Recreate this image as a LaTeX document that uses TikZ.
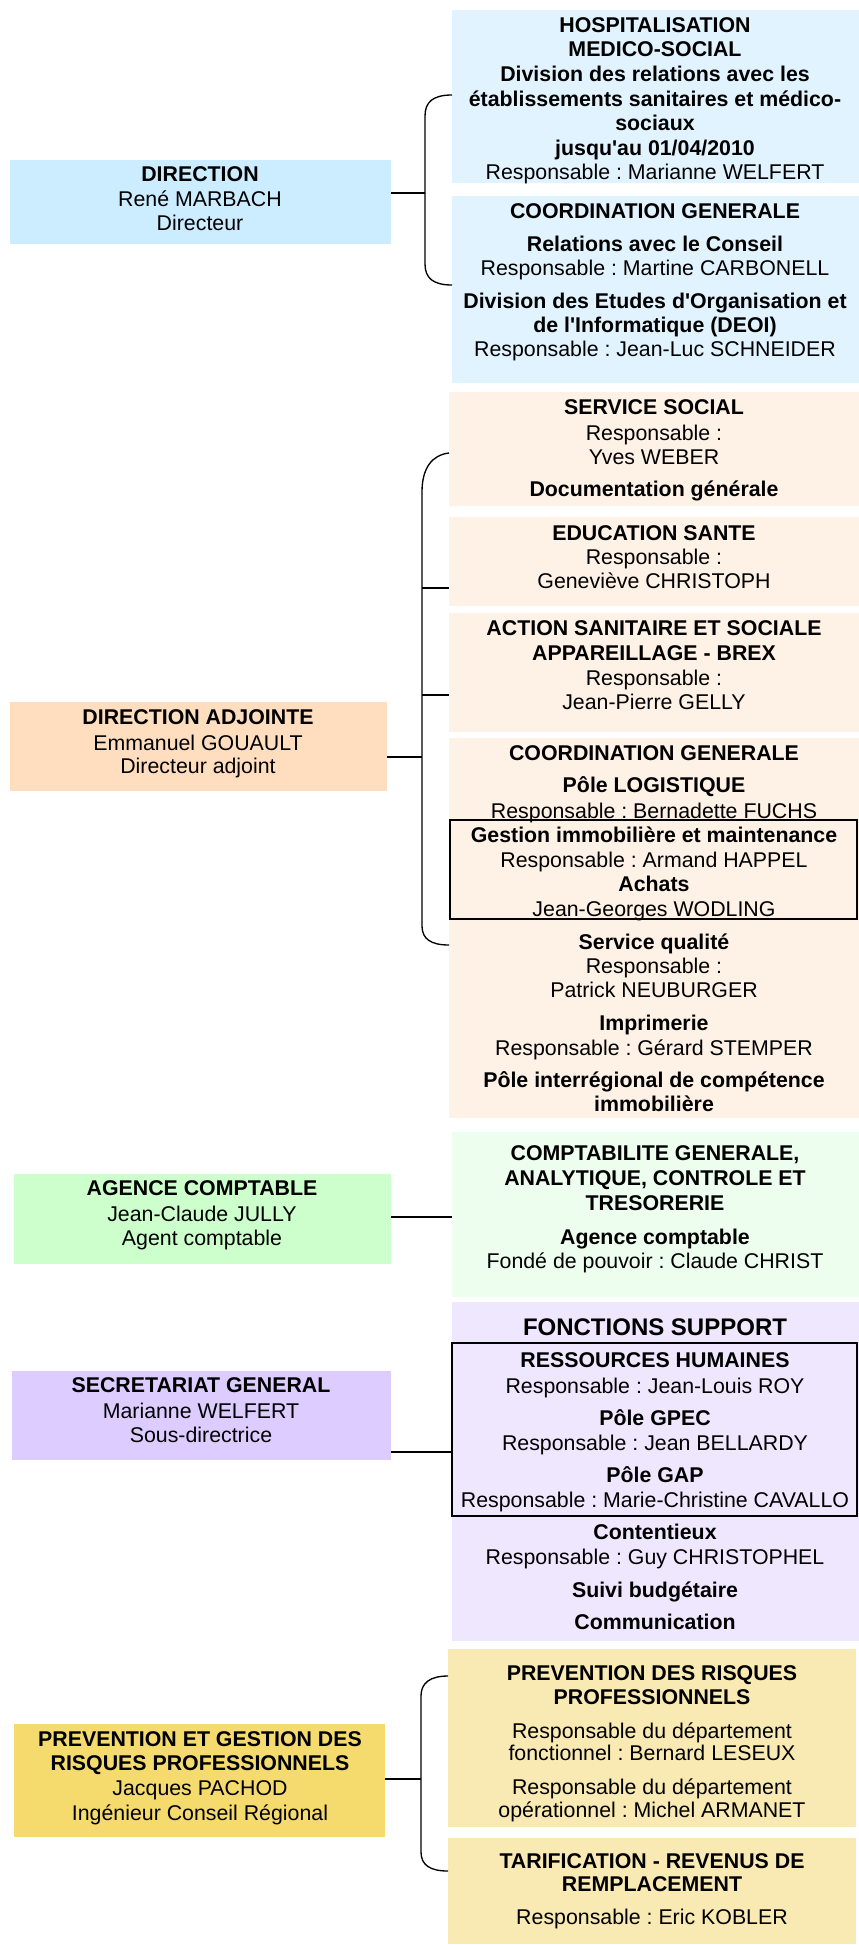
\documentclass[tikz,border=0pt]{standalone}
\usepackage{fontspec}
\setmainfont{Liberation Sans}
\usetikzlibrary{calc}
\frenchspacing
\definecolor{dirL}{HTML}{CCECFF}
\definecolor{dirR}{HTML}{E1F3FE}
\definecolor{adjL}{HTML}{FFDEC0}
\definecolor{adjR}{HTML}{FEF1E6}
\definecolor{agL}{HTML}{CCFFCC}
\definecolor{agR}{HTML}{EDFDEE}
\definecolor{sgL}{HTML}{DDCCFF}
\definecolor{sgR}{HTML}{EFE7FE}
\definecolor{prL}{HTML}{F5DA6E}
\definecolor{prR}{HTML}{F8EAB2}
\newcommand\Bx[6]{\node[boxst,fill=#6,minimum width={(#4-#2)*0.75pt},minimum height={(#5-#3)*0.75pt}] (#1) at (#2,#3) {};}
\newcommand\Fr[5]{\node[framest,minimum width={(#4-#2)*0.75pt},minimum height={(#5-#3)*0.75pt}] (#1) at (#2,#3) {};}
\newcommand\Tx[4]{\node[txt] (#1) at (#2,#3) {#4};}
\newcommand\Tb[4]{\node[txt] (#1) at (#2,#3) {\bfseries #4};}
\newcommand\sq{\textquotesingle}
\begin{document}
\begin{tikzpicture}[x=0.75pt,y=-0.75pt,
  boxst/.style={inner sep=0pt,outer sep=0pt,anchor=north west},
  framest/.style={draw=black,line width=1.1pt,inner sep=0pt,outer sep=0pt,anchor=north west},
  txt/.style={anchor=base,inner sep=0pt,font=\fontsize{16}{18.4}\selectfont},
  conn/.style={draw=black,line width=1pt}]
\useasboundingbox (0,0) rectangle (859,1945);

% ---------- DIRECTION ----------
\Bx{dirL}{10}{160}{391}{244}{dirL}
\Bx{hosp}{452}{10}{859}{183}{dirR}
\Bx{coordA}{452}{196}{859}{383}{dirR}
\Tb{d1}{200}{181.5}{DIRECTION}
\Tx{d2}{200}{206.5}{René MARBACH}
\Tx{d3}{200}{230.5}{Directeur}
\Tb{h1}{655}{32.5}{HOSPITALISATION}
\Tb{h2}{655}{56.5}{MEDICO-SOCIAL}
\Tb{h3}{655}{81.5}{Division des relations avec les}
\Tb{h4}{655}{106.5}{établissements sanitaires et médico-}
\Tb{h5}{655}{130.5}{sociaux}
\Tb{h6}{655}{155.5}{jusqu\sq au 01/04/2010}
\Tx{h7}{655}{179.5}{Responsable : Marianne WELFERT}
\Tb{c1}{655}{218.5}{COORDINATION GENERALE}
\Tb{c2}{655}{251.5}{Relations avec le Conseil}
\Tx{c3}{655}{275.5}{Responsable : Martine CARBONELL}
\Tb{c4}{655}{308.5}{Division des Etudes d\sq Organisation et}
\Tb{c5}{655}{332.5}{de l\sq Informatique (DEOI)}
\Tx{c6}{655}{356.5}{Responsable : Jean-Luc SCHNEIDER}
\coordinate (j1) at (425,193);
\coordinate (k1t) at (452,95);
\coordinate (k1b) at (452,285);
\draw[conn] (j1 -| dirL.east) -- (j1);
\draw[conn] (k1t) .. controls (433,95) and (425,102) .. (425,116) -- (425,264) .. controls (425,278) and (433,285) .. (k1b);

% ---------- DIRECTION ADJOINTE ----------
\Bx{adjL}{10}{702}{387}{791}{adjL}
\Bx{soc}{449}{392}{859}{506}{adjR}
\Bx{edu}{449}{517}{859}{606}{adjR}
\Bx{act}{449}{613}{859}{732}{adjR}
\Bx{coordB}{449}{738}{859}{1118}{adjR}
\Fr{gest}{450}{820}{857}{919}
\Tb{a1}{198}{724.5}{DIRECTION ADJOINTE}
\Tx{a2}{198}{750.5}{Emmanuel GOUAULT}
\Tx{a3}{198}{773.5}{Directeur adjoint}
\Tb{s1}{654}{414.5}{SERVICE SOCIAL}
\Tx{s2}{654}{440.5}{Responsable :}
\Tx{s3}{654}{464.5}{Yves WEBER}
\Tb{s4}{654}{496.5}{Documentation générale}
\Tb{e1}{654}{540.5}{EDUCATION SANTE}
\Tx{e2}{654}{564.5}{Responsable :}
\Tx{e3}{654}{588.5}{Geneviève CHRISTOPH}
\Tb{x1}{654}{635.5}{ACTION SANITAIRE ET SOCIALE}
\Tb{x2}{654}{660.5}{APPAREILLAGE - BREX}
\Tx{x3}{654}{685.5}{Responsable :}
\Tx{x4}{654}{709.5}{Jean-Pierre GELLY}
\Tb{g1}{654}{760.5}{COORDINATION GENERALE}
\Tb{g2}{654}{792.5}{Pôle LOGISTIQUE}
\Tx{g3}{654}{818.5}{Responsable : Bernadette FUCHS}
\Tb{g4}{654}{842.5}{Gestion immobilière et maintenance}
\Tx{g5}{654}{867.5}{Responsable : Armand HAPPEL}
\Tb{g6}{654}{891.5}{Achats}
\Tx{g7}{654}{916.5}{Jean-Georges WODLING}
\Tb{g8}{654}{949.5}{Service qualité}
\Tx{g9}{654}{973.5}{Responsable :}
\Tx{g10}{654}{997.5}{Patrick NEUBURGER}
\Tb{g11}{654}{1030.5}{Imprimerie}
\Tx{g12}{654}{1055.5}{Responsable : Gérard STEMPER}
\Tb{g13}{654}{1087.5}{Pôle interrégional de compétence}
\Tb{g14}{654}{1111.5}{immobilière}
\coordinate (j2) at (422,757);
\coordinate (k2t) at (449,453);
\coordinate (k2b) at (449,945);
\coordinate (k2a) at (422,588);
\coordinate (k2c) at (422,695);
\draw[conn] (j2 -| adjL.east) -- (j2);
\draw[conn] (k2a) -- (k2a -| edu.west);
\draw[conn] (k2c) -- (k2c -| act.west);
\draw[conn] (k2t) .. controls (432,455) and (422,468) .. (422,492) -- (422,926) .. controls (422,939) and (431,945) .. (k2b);

% ---------- AGENCE COMPTABLE ----------
\Bx{agL}{14}{1174}{391}{1264}{agL}
\Bx{agR}{452}{1132}{859}{1297}{agR}
\Tb{m1}{202}{1195.5}{AGENCE COMPTABLE}
\Tx{m2}{202}{1221.5}{Jean-Claude JULLY}
\Tx{m3}{202}{1245.5}{Agent comptable}
\Tb{n1}{655}{1160.5}{COMPTABILITE GENERALE,}
\Tb{n2}{655}{1185.5}{ANALYTIQUE, CONTROLE ET}
\Tb{n3}{655}{1210.5}{TRESORERIE}
\Tb{n4}{655}{1244.5}{Agence comptable}
\Tx{n5}{655}{1268.5}{Fondé de pouvoir : Claude CHRIST}
\coordinate (j3) at (0,1217);
\draw[conn] (j3 -| agL.east) -- (j3 -| agR.west);

% ---------- SECRETARIAT GENERAL ----------
\Bx{sgL}{12}{1371}{391}{1460}{sgL}
\Bx{sgR}{452}{1302}{859}{1641}{sgR}
\Fr{rh}{452}{1343}{857}{1516}
\Tb{p1}{201}{1392.5}{SECRETARIAT GENERAL}
\Tx{p2}{201}{1418.5}{Marianne WELFERT}
\Tx{p3}{201}{1442.5}{Sous-directrice}
\node[txt,font=\fontsize{18}{21}\selectfont\bfseries] (q0) at (655,1335.5) {FONCTIONS SUPPORT};
\Tb{q1}{655}{1367.5}{RESSOURCES HUMAINES}
\Tx{q2}{655}{1393.5}{Responsable : Jean-Louis ROY}
\Tb{q3}{655}{1425.5}{Pôle GPEC}
\Tx{q4}{655}{1450.5}{Responsable : Jean BELLARDY}
\Tb{q5}{655}{1482.5}{Pôle GAP}
\Tx{q6}{655}{1507.5}{Responsable : Marie-Christine CAVALLO}
\Tb{q7}{655}{1539.5}{Contentieux}
\Tx{q8}{655}{1564.5}{Responsable : Guy CHRISTOPHEL}
\Tb{q9}{655}{1597.5}{Suivi budgétaire}
\Tb{q10}{655}{1629.5}{Communication}
\coordinate (j4) at (0,1452);
\draw[conn] (j4 -| sgL.east) -- (j4 -| rh.west);

% ---------- PREVENTION ----------
\Bx{prL}{14}{1724}{385}{1837}{prL}
\Bx{prR1}{448}{1649}{856}{1827}{prR}
\Bx{prR2}{448}{1838}{856}{1944}{prR}
\Tb{r1}{200}{1746.5}{PREVENTION ET GESTION DES}
\Tb{r2}{200}{1770.5}{RISQUES PROFESSIONNELS}
\Tx{r3}{200}{1795.5}{Jacques PACHOD}
\Tx{r4}{200}{1820.5}{Ingénieur Conseil Régional}
\Tb{u1}{652}{1680.5}{PREVENTION DES RISQUES}
\Tb{u2}{652}{1704.5}{PROFESSIONNELS}
\Tx{u3}{652}{1738.5}{Responsable du département}
\Tx{u4}{652}{1760.5}{fonctionnel : Bernard LESEUX}
\Tx{u5}{652}{1794.5}{Responsable du département}
\Tx{u6}{652}{1817.5}{opérationnel : Michel ARMANET}
\Tb{v1}{652}{1868.5}{TARIFICATION - REVENUS DE}
\Tb{v2}{652}{1891.5}{REMPLACEMENT}
\Tx{v3}{652}{1924.5}{Responsable : Eric KOBLER}
\coordinate (j5) at (421,1779);
\coordinate (k5t) at (448,1676);
\coordinate (k5b) at (448,1871);
\draw[conn] (j5 -| prL.east) -- (j5);
\draw[conn] (k5t) .. controls (430,1676) and (421,1683) .. (421,1696) -- (421,1852) .. controls (421,1865) and (430,1871) .. (k5b);
\end{tikzpicture}
\end{document}
